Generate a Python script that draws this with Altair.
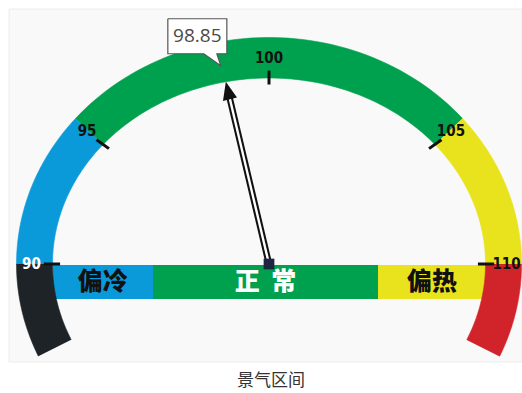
import numpy as np
import pandas as pd
import altair as alt

# ---------------- data ----------------
seg_names = ["过冷", "偏冷区", "正常区", "偏热区", "过热"]
seg_start = [87, 90, 95, 105, 110]
seg_end = [90, 95, 105, 110, 113]
seg_colors = ["#1e2327", "#0a9ad9", "#00a14e", "#e8e31c", "#d1232a"]

tick_values = [90, 95, 100, 105, 110]
tick_labels = ["90", "95", "100", "105", "110"]
tick_label_colors = ["#ffffff", "#111111", "#111111", "#111111", "#111111"]

band_labels = ["偏冷", "正\u00a0\u00a0常", "偏热"]
band_colors = ["#0a9ad9", "#00a14e", "#e8e31c"]
band_text_colors = ["#111111", "#ffffff", "#111111"]

current_value = 98.85
current_label = "98.85"
title_text = "景气区间"

# ---------------- layout ----------------
W, H = 522, 393
CX, CY = 269, 264
A_OUT, B_OUT = 252.5, 226.5
A_IN, B_IN = 216.5, 186.0
A_MID, B_MID = (A_OUT + A_IN) / 2 + 3, (B_OUT + B_IN) / 2
knot_vals = [90, 95, 100, 105, 110]
knot_angles = [-90, -50, 0, 50, 90]
band_edges = [-216.5, -116, 109, 217]
BAND_TOP, BAND_BOT = -1, -35
TICK_FONT = "DejaVu Sans Condensed, Liberation Sans Narrow, Arial Narrow, DejaVu Sans, sans-serif"


def angle(v):
    if v < 90:
        return -90 - (90 - v) * 8
    if v > 110:
        return 90 + (v - 110) * 8
    return float(np.interp(v, knot_vals, knot_angles))


def pt(theta, a, b):
    r = np.radians(theta)
    return a * np.sin(r), b * np.cos(r)


xs = alt.Scale(domain=[-CX, W - CX], range=[0, W], nice=False, zero=False)
ys = alt.Scale(domain=[-(H - CY), CY], nice=False, zero=False)


def X(f="x"):
    return alt.X(f"{f}:Q", scale=xs, axis=None)


def Y(f="y"):
    return alt.Y(f"{f}:Q", scale=ys, axis=None)


# ring polygons
rows = []
for name, s, e in zip(seg_names, seg_start, seg_end):
    t0, t1 = angle(s), angle(e)
    ts = np.linspace(t0, t1, 60)
    i = 0
    for t in ts:
        x, y = pt(t, A_OUT, B_OUT)
        rows.append({"seg": name, "i": i, "x": x, "y": y}); i += 1
    for t in ts[::-1]:
        x, y = pt(t, A_IN, B_IN)
        rows.append({"seg": name, "i": i, "x": x, "y": y}); i += 1
ring_df = pd.DataFrame(rows)

# band
band_df = pd.DataFrame({
    "label": band_labels,
    "x": band_edges[:-1], "x2": band_edges[1:],
    "y": [BAND_TOP] * 3, "y2": [BAND_BOT] * 3,
    "c": band_colors, "tc": band_text_colors,
})
band_df["xm"] = (band_df["x"] + band_df["x2"]) / 2
band_df["ym"] = (band_df["y"] + band_df["y2"]) / 2

# ticks
trows = []
for v, lab, c in zip(tick_values, tick_labels, tick_label_colors):
    t = angle(v)
    x1, y1 = pt(t, A_IN * 0.965, B_IN * 0.965)
    x2, y2 = pt(t, A_IN * 1.04, B_IN * 1.04)
    xm, ym = pt(t, A_MID, B_MID)
    trows.append({"x": x1, "y": y1, "x2": x2, "y2": y2, "xm": xm, "ym": ym, "lab": lab, "c": c})
tick_df = pd.DataFrame(trows)

# needle
tn = angle(current_value)
tipx, tipy = pt(tn, A_IN, B_IN)
L = np.hypot(tipx, tipy)
ux, uy = tipx / L, tipy / L
rot = -np.degrees(np.arctan2(-ux, uy))  # clockwise rotation in screen
needle_df = pd.DataFrame({"x": [0.0], "y": [0.0], "x2": [tipx - ux * 12], "y2": [tipy - uy * 12]})
head_df = pd.DataFrame({"x": [tipx - ux * 9], "y": [tipy - uy * 9], "a": [rot]})
base_df = pd.DataFrame({"x": [0.0], "y": [0.0]})

# callout
ax, ay = tipx - 5, tipy + 16
cpts = [(ax - 53, ay + 47), (ax + 6, ay + 47), (ax + 6, ay + 12), (ax - 4, ay + 12),
        (ax, ay), (ax - 17, ay + 12), (ax - 53, ay + 12), (ax - 53, ay + 47)]
call_df = pd.DataFrame({"x": [p[0] for p in cpts], "y": [p[1] for p in cpts], "i": range(len(cpts))})
call_txt = pd.DataFrame({"x": [ax - 23.5], "y": [ay + 29.5], "t": [current_label]})

one = pd.DataFrame({"a": [0]})

bg = alt.Chart(one).mark_rect(color="#f9f9f9", stroke="#ececec", strokeWidth=1).encode(
    x=alt.value(9), x2=alt.value(522), y=alt.value(9), y2=alt.value(362))

band = alt.Chart(band_df).mark_rect().encode(
    x=X(), x2="x2:Q", y=Y(), y2="y2:Q", color=alt.Color("c:N", scale=None))

ring = alt.Chart(ring_df).mark_line(filled=True, strokeWidth=0.6).encode(
    x=X(), y=Y(), order="i:Q",
    fill=alt.Fill("seg:N", scale=alt.Scale(domain=seg_names, range=seg_colors), legend=None),
    stroke=alt.Stroke("seg:N", scale=alt.Scale(domain=seg_names, range=seg_colors), legend=None))

ticks = alt.Chart(tick_df).mark_rule(color="#111111", strokeWidth=3).encode(
    x=X(), y=Y(), x2="x2:Q", y2="y2:Q")

tick_text = alt.Chart(tick_df).mark_text(
    font=TICK_FONT, fontWeight="bold", fontSize=15, baseline="middle", align="center"
).encode(x=X("xm"), y=Y("ym"), text="lab:N", color=alt.Color("c:N", scale=None))

band_text = alt.Chart(band_df).mark_text(
    font="Noto Sans CJK SC", fontWeight=900, fontSize=25, baseline="middle", align="center"
).encode(x=X("xm"), y=Y("ym"), text="label:N", color=alt.Color("tc:N", scale=None))

needle_outer = alt.Chart(needle_df).mark_rule(color="#111111", strokeWidth=6.5).encode(
    x=X(), y=Y(), x2="x2:Q", y2="y2:Q")
needle_inner = alt.Chart(needle_df).mark_rule(color="#ffffff", strokeWidth=2.4).encode(
    x=X(), y=Y(), x2="x2:Q", y2="y2:Q")

head = alt.Chart(head_df).mark_point(
    shape="M0,-1L0.8,1L-0.8,1Z", filled=True, size=324, color="#111111", opacity=1
).encode(x=X(), y=Y(), angle=alt.Angle("a:Q", scale=None))

base = alt.Chart(base_df).mark_square(size=115, color="#1d2540", opacity=1).encode(x=X(), y=Y())

callout = alt.Chart(call_df).mark_line(filled=True, strokeWidth=1.2).encode(
    x=X(), y=Y(), order="i:Q", fill=alt.value("#ffffff"), stroke=alt.value("#555555"))
callout_text = alt.Chart(call_txt).mark_text(
    font="Open Sans", fontSize=19, color="#4a4a4a", baseline="middle", align="center"
).encode(x=X(), y=Y(), text="t:N")

title = alt.Chart(one).mark_text(
    text=title_text, font="Noto Sans CJK SC", fontSize=17, color="#333333",
    baseline="middle", align="center"
).encode(x=alt.value(271), y=alt.value(381))

chart = alt.layer(
    bg, band, ring, ticks, tick_text, band_text,
    needle_outer, needle_inner, head, base, callout, callout_text, title
).properties(
    width=W, height=H, padding=0, autosize=alt.AutoSizeParams(type="none"),
    background="#ffffff"
).configure_view(strokeWidth=0)

chart.save("out.html", embed_options={"renderer": "svg", "actions": False})
